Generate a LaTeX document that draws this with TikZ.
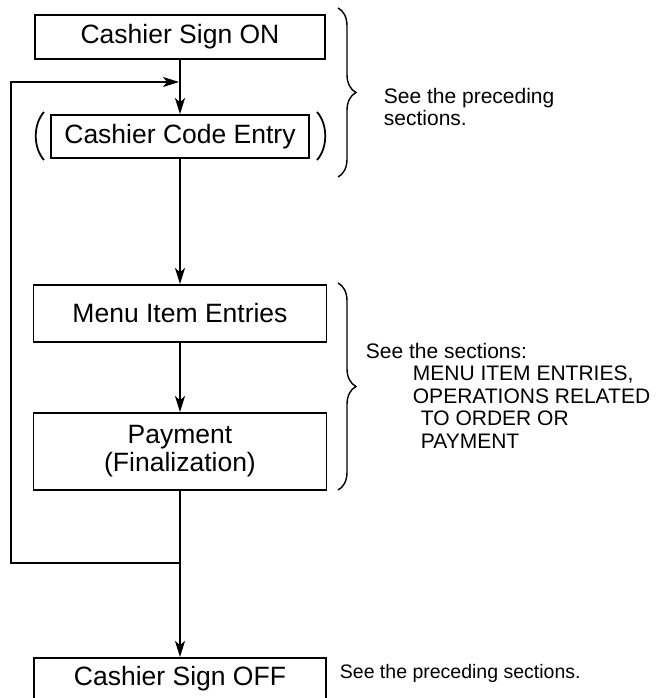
\documentclass[tikz,border=0pt]{standalone}
\usepackage{fontspec}
\setmainfont{Liberation Sans}
\usetikzlibrary{arrows.meta,decorations.pathreplacing}

\begin{document}
\begin{tikzpicture}[x=1pt, y=-1pt, line width=1.8pt,
	flowbox/.style={draw, inner sep=0pt, align=center, font=\fontsize{26.5}{28}\selectfont},
	flow/.style={-{Stealth[length=16pt,width=10pt,inset=4pt]}},
	note/.style={anchor=north west, inner sep=0pt, align=left, font=\fontsize{21}{22.5}\selectfont},
	curly/.style={decorate, decoration={brace, amplitude=18pt}, line width=1.4pt}]

	\useasboundingbox (0,0) rectangle (662,698);
	\clip (0,0) rectangle (662,698);

	\node[flowbox, minimum width=290pt, minimum height=44pt] (signon) at (180,37) {Cashier Sign ON};
	\node[flowbox, minimum width=258pt, minimum height=43pt] (codeentry) at (180,136.5) {Cashier Code Entry};
	\node[flowbox, minimum width=293pt, minimum height=57pt] (menu) at (180,313.5) {Menu Item Entries};
	\node[flowbox, minimum width=293pt, minimum height=77pt] (payment) at (180,451.5) {Payment\\(Finalization)};
	\node[flowbox, minimum width=292pt, anchor=north, inner ysep=7.5pt, text height=20pt, text depth=30pt] (signoff) at (180,657) {Cashier Sign OFF};

	\coordinate (junc) at (180,563);
	\coordinate (back) at (11,563);
	\coordinate (join) at (179,82);

	\draw[flow] (signon) -- (codeentry);
	\draw[flow] (codeentry) -- (menu);
	\draw[flow] (menu) -- (payment);
	\draw (payment) -- (junc);
	\draw[flow] (junc) -- (signoff);
	\draw[flow] (junc) -- (back) |- (join);

	% brackets round the code entry
	\draw (44,112) .. controls (33,124) and (33,148) .. (44,160);
	\draw (317,112) .. controls (328,124) and (328,148) .. (317,160);

	\draw[curly] (338,8) -- (338,177);
	\draw[curly] (338,283) -- (338,490);

	\node[note] (notetop) at (383,87) {See the preceding\\sections.};
	\node[note] (notemid) at (365,342) {See the sections:\\
		\hspace*{47pt}MENU ITEM ENTRIES,\\
		\hspace*{47pt}OPERATIONS RELATED\\
		\hspace*{55pt}TO ORDER OR\\
		\hspace*{55pt}PAYMENT};
	\node[note, font=\fontsize{19.5}{21}\selectfont] (notebot) at (339,663) {See the preceding sections.};
\end{tikzpicture}
\end{document}
